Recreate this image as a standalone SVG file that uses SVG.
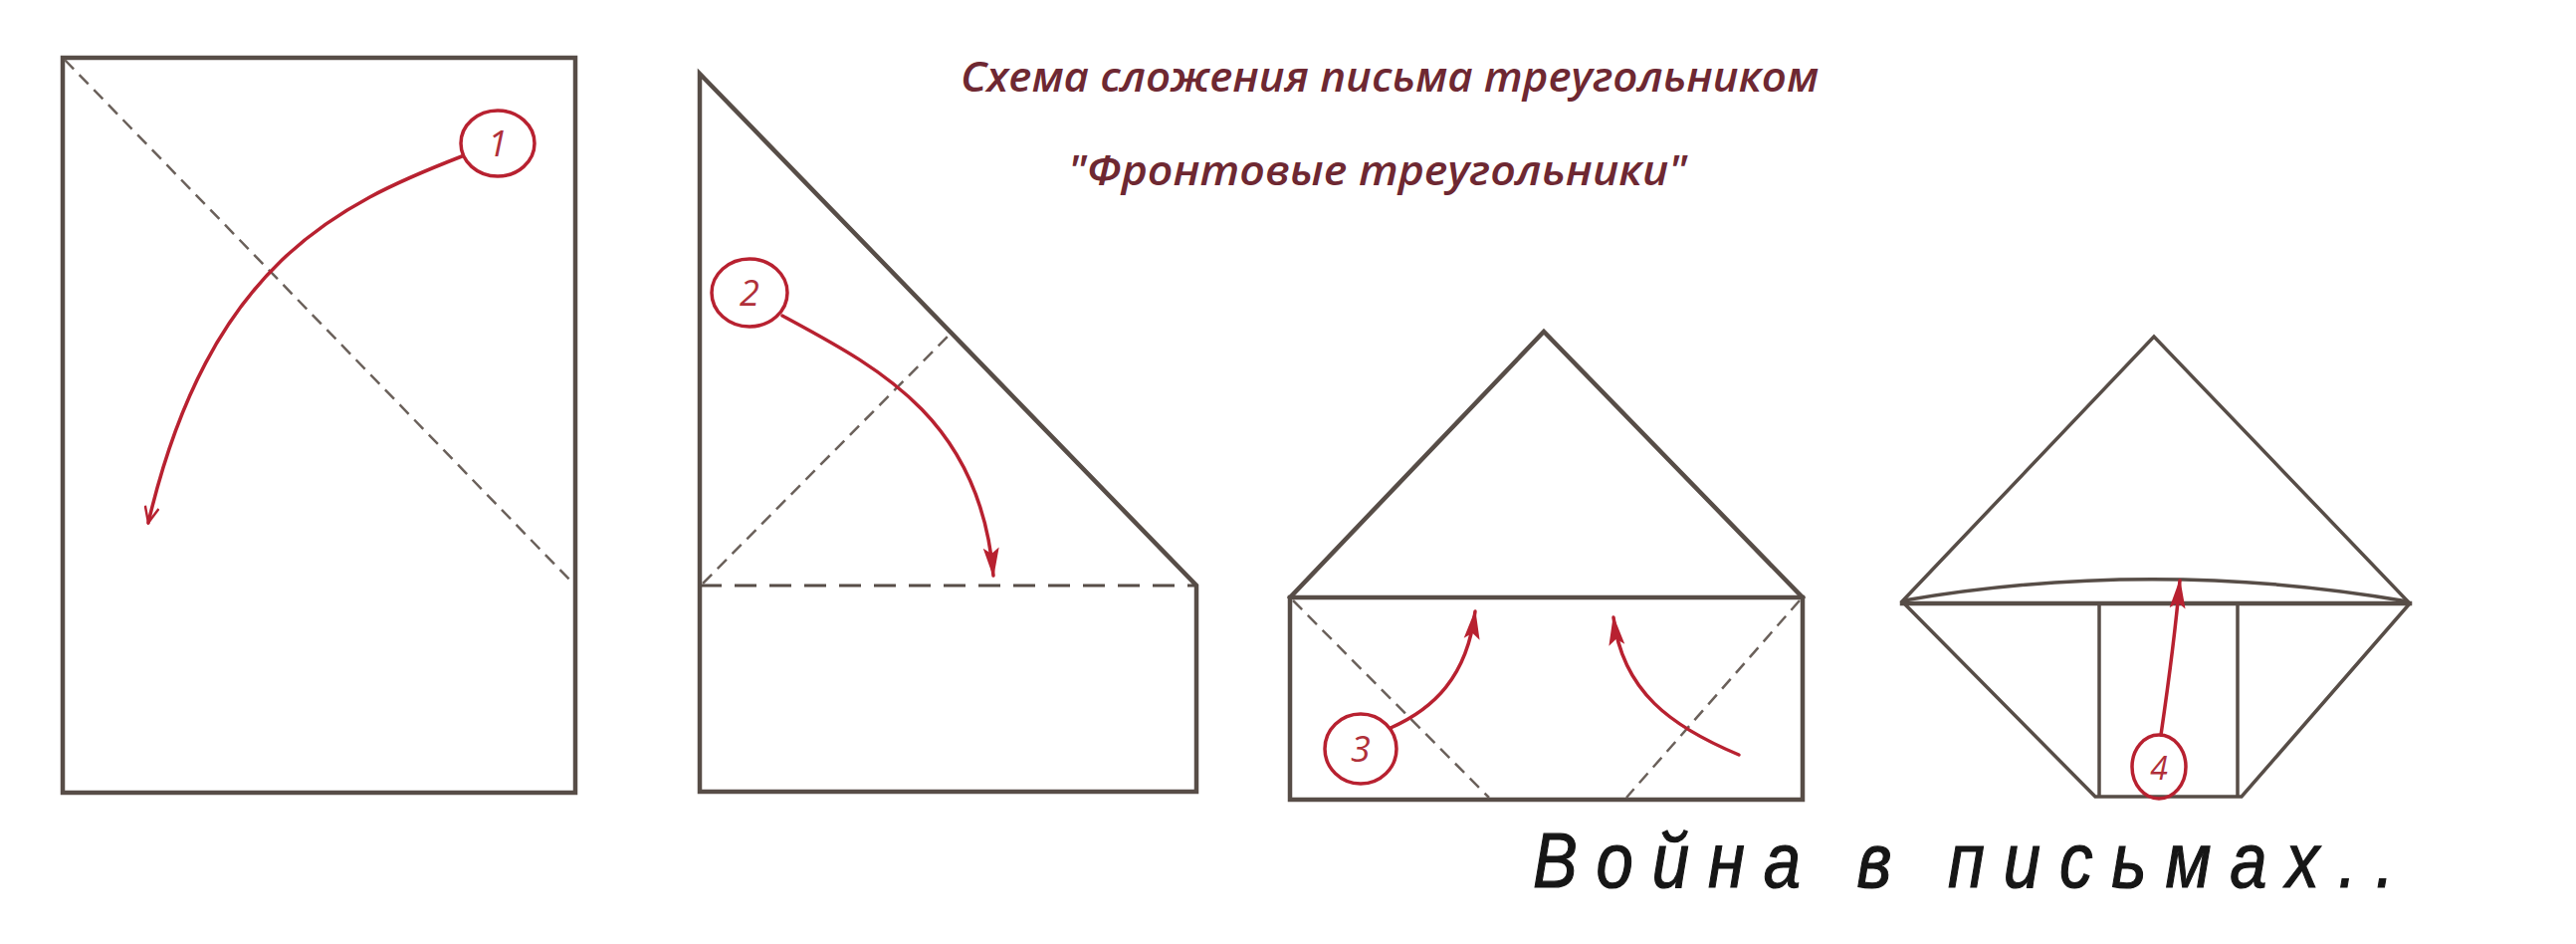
<svg xmlns="http://www.w3.org/2000/svg" width="2588" height="948" viewBox="0 0 2588 948">
<style>
.edge{fill:none;stroke:#574d47;stroke-width:4.5;stroke-linejoin:miter;stroke-linecap:square}
.thin{fill:none;stroke:#574d47;stroke-width:3.5}
.dash{fill:none;stroke:#6a605a;stroke-width:2.5;stroke-dasharray:13 8}
.dash2{fill:none;stroke:#574d47;stroke-width:3;stroke-dasharray:22 13}
.red{fill:none;stroke:#b82130;stroke-width:3.5;stroke-linecap:round}
.badge{fill:none;stroke:#b82130;stroke-width:3.5}
.num{font-family:"Open Sans","Noto Sans",sans-serif;font-style:italic;font-size:36px;fill:#b0303a;text-anchor:middle}
.title{font-family:"Open Sans","Noto Sans",sans-serif;font-style:italic;font-weight:600;font-size:42px;fill:#6e2832}
.footer{font-family:"Liberation Sans",Arial,sans-serif;font-style:italic;font-size:78px;fill:#161616;stroke:#161616;stroke-width:1.2}
</style>
<defs>
<marker id="open" viewBox="0 0 20 16" refX="18" refY="8" markerWidth="20" markerHeight="16" markerUnits="userSpaceOnUse" orient="auto">
<path d="M2,1 L18,8 L2,15" fill="none" stroke="#b82130" stroke-width="2.5"/>
</marker>
<marker id="fill" viewBox="0 0 30 18" refX="28" refY="9" markerWidth="30" markerHeight="18" markerUnits="userSpaceOnUse" orient="auto">
<path d="M0,1 L30,9 L0,17 L6,9 Z" fill="#b82130"/>
</marker>
</defs>
<rect width="2588" height="948" fill="#ffffff"/>

<g id="title">
<text class="title" x="965" y="92" textLength="862" lengthAdjust="spacingAndGlyphs">Схема сложения письма треугольником</text>
<text class="title" x="1073" y="186" textLength="622" lengthAdjust="spacingAndGlyphs">"Фронтовые треугольники"</text>
</g>

<g id="step1">
<rect class="edge" x="63" y="58" width="515" height="738"/>
<line class="dash" x1="65" y1="60" x2="576" y2="586"/>
</g>

<g id="step2">
<path class="edge" d="M703,74 L1202,588 L1202,795 L703,795 Z"/>
<line class="dash2" x1="703" y1="588" x2="1202" y2="588"/>
<line class="dash" x1="706" y1="586" x2="952" y2="338"/>
</g>

<g id="step3">
<path class="edge" d="M1296,600 L1551,333 L1811,600"/>
<rect class="edge" x="1296" y="600" width="515" height="203"/>
<line class="dash" x1="1299" y1="603" x2="1496" y2="801"/>
<line class="dash" x1="1808" y1="603" x2="1634" y2="801"/>
</g>

<g id="step4">
<path class="thin" d="M1911,604 L2164,338 L2421,606 L2252,800 L2105,800 Z"/>
<line class="edge" x1="1911" y1="606" x2="2421" y2="606"/>
<path class="thin" d="M1913,603 Q2164,560 2419,604"/>
<line class="thin" x1="2109" y1="606" x2="2109" y2="800"/>
<line class="thin" x1="2248" y1="606" x2="2248" y2="800"/>
</g>

<g id="badges">
<g id="badge1"><ellipse class="badge" cx="500" cy="144" rx="37" ry="33"/><text class="num" x="500" y="157">1</text></g>
<g id="badge2"><ellipse class="badge" cx="753" cy="294" rx="38" ry="34"/><text class="num" x="753" y="307">2</text></g>
<g id="badge3"><ellipse class="badge" cx="1367" cy="752" rx="36" ry="35"/><text class="num" x="1367" y="765">3</text></g>
<g id="badge4"><ellipse class="badge" cx="2169" cy="770" rx="27" ry="32"/><text class="num" x="2169" y="783" style="font-size:32px">4</text></g>
</g>

<g id="connectors">
<path class="red" d="M464,157 C340,205 210,265 149,525" marker-end="url(#open)"/>
<path class="red" d="M786,317 C880,368 985,420 998,578" marker-end="url(#fill)"/>
<path class="red" d="M1397,731 C1440,712 1474,680 1482,614" marker-end="url(#fill)"/>
<path class="red" d="M1747,758 C1680,730 1630,695 1621,620" marker-end="url(#fill)"/>
<path class="red" d="M2171,738 C2178,690 2185,640 2190,583" marker-end="url(#fill)"/>
</g>

<g id="footer">
<g transform="translate(1540,891) scale(0.86,1)">
<text class="footer" x="0" y="0" textLength="1006" lengthAdjust="spacing">Война в письмах..</text>
</g>
</g>
</svg>
